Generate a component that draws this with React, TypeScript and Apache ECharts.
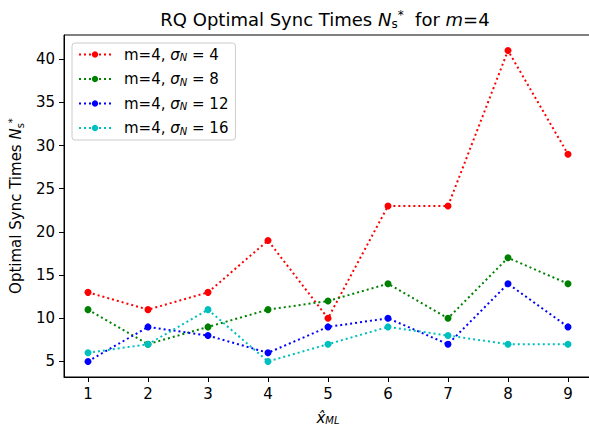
import React, { useEffect, useRef } from 'react';
import * as echarts from 'echarts';

const xValues = [1, 2, 3, 4, 5, 6, 7, 8, 9];
const sigmaValues = [4, 8, 12, 16];
const redValues = [13, 11, 13, 19, 10, 23, 23, 41, 29];
const greenValues = [11, 7, 9, 11, 12, 14, 10, 17, 14];
const blueValues = [5, 9, 8, 6, 9, 10, 7, 14, 9];
const cyanValues = [6, 7, 11, 5, 7, 9, 8, 7, 7];
const seriesColors = ['#ff0000', '#008000', '#0000ff', '#00bfbf'];
const yTicks = [5, 10, 15, 20, 25, 30, 35, 40];
const xTicks = [1, 2, 3, 4, 5, 6, 7, 8, 9];

const FONT = 'DejaVu Sans';
const FS = 15;

export default function App() {
  const ref = useRef<HTMLDivElement>(null);
  useEffect(() => {
    if (!ref.current) return;
    const chart = echarts.init(ref.current, null, { renderer: 'svg' });
    const allValues = [redValues, greenValues, blueValues, cyanValues];
    const names = sigmaValues.map((s) => 'm=4, σN = ' + s);
    const series = allValues.map((vals, i) => ({
      name: names[i],
      type: 'line',
      data: vals.map((v, j) => [xValues[j], v]),
      symbol: 'circle',
      symbolSize: 7,
      showSymbol: true,
      itemStyle: { color: seriesColors[i] },
      lineStyle: { color: seriesColors[i], width: 2, type: [2, 3], cap: 'butt' },
      z: 2 + i,
    }));
    chart.setOption({
      animation: false,
      textStyle: { fontFamily: FONT },
      grid: {
        left: 64, top: 35, width: 528, height: 342, show: true, borderColor: '#000', borderWidth: 1,
        containLabel: false, outerBoundsMode: 'none',
      },
      graphic: [
        {
          type: 'text',
          x: 325,
          y: 19,
          style: {
            text: 'RQ Optimal Sync Times {it|N}{sub|s}{sup|*}  for {it|m}=4',
            fill: '#000',
            fontFamily: FONT,
            fontSize: 18,
            align: 'center',
            verticalAlign: 'middle',
            rich: {
              it: { fontStyle: 'italic', fontSize: 18, fontFamily: FONT },
              sub: { fontSize: 12, fontFamily: FONT, padding: [9, 0, 0, 0] },
              sup: { fontSize: 12, fontFamily: FONT, padding: [0, 0, 9, 0] },
            },
          },
        },
      ],
      legend: {
        left: 72,
        top: 43,
        orient: 'vertical',
        itemWidth: 32,
        itemHeight: 8,
        itemGap: 9,
        padding: [4, 7, 4, 6],
        borderColor: '#cccccc',
        borderWidth: 1,
        borderRadius: 3,
        backgroundColor: 'rgba(255,255,255,0.8)',
        data: names,
        formatter: (name: string) => {
          const s = name.split('= ')[1];
          return 'm=4, {it|σ}{sub|N}{n| = ' + s + '}';
        },
        textStyle: {
          fontFamily: FONT,
          fontSize: FS,
          color: '#000',
          padding: [0, 0, 0, 8],
          rich: {
            it: { fontStyle: 'italic', fontSize: FS, fontFamily: FONT },
            sub: { fontStyle: 'italic', fontSize: 10, fontFamily: FONT, padding: [6, 0, 0, 0] },
            n: { fontSize: FS, fontFamily: FONT },
          },
        },
      },
      xAxis: {
        type: 'value',
        min: 0.6,
        max: 9.4,
        name: '{it|x̂}{sub|ML}',
        nameLocation: 'middle',
        nameGap: 33,
        nameTextStyle: {
          fontFamily: FONT,
          fontSize: FS,
          color: '#000',
          rich: {
            it: { fontStyle: 'italic', fontSize: FS, fontFamily: FONT },
            sub: { fontStyle: 'italic', fontSize: 10, fontFamily: FONT, padding: [5, 0, 0, 0] },
          },
        },
        axisLine: { show: true, onZero: false, lineStyle: { color: '#000', width: 1 } },
        axisTick: { show: true, inside: false, length: 5, lineStyle: { color: '#000' }, customValues: xTicks },
        axisLabel: { show: true, margin: 9, fontSize: FS, color: '#000', fontFamily: FONT, customValues: xTicks },
        splitLine: { show: false },
      },
      yAxis: {
        type: 'value',
        min: 3.2,
        max: 42.8,
        name: 'Optimal Sync Times {it|N}{sub|s}{sup|*}',
        nameLocation: 'middle',
        nameGap: 37,
        nameRotate: 90,
        nameTextStyle: {
          fontFamily: FONT,
          fontSize: FS,
          color: '#000',
          rich: {
            it: { fontStyle: 'italic', fontSize: FS, fontFamily: FONT },
            sub: { fontSize: 10, fontFamily: FONT, padding: [8, 0, 0, 0] },
            sup: { fontSize: 10, fontFamily: FONT, padding: [0, 0, 8, 0] },
          },
        },
        axisLine: { show: true, onZero: false, lineStyle: { color: '#000', width: 1 } },
        axisTick: { show: true, inside: false, length: 5, lineStyle: { color: '#000' }, customValues: yTicks },
        axisLabel: { show: true, margin: 9, fontSize: FS, color: '#000', fontFamily: FONT, customValues: yTicks },
        splitLine: { show: false },
      },
      series,
    });
    return () => chart.dispose();
  }, []);
  return (
    <div style={{ width: 589, height: 428, position: 'absolute', left: 0, top: 0, overflow: 'hidden', background: '#fff' }}>
      <div ref={ref} style={{ width: 600, height: 428 }} />
    </div>
  );
}
